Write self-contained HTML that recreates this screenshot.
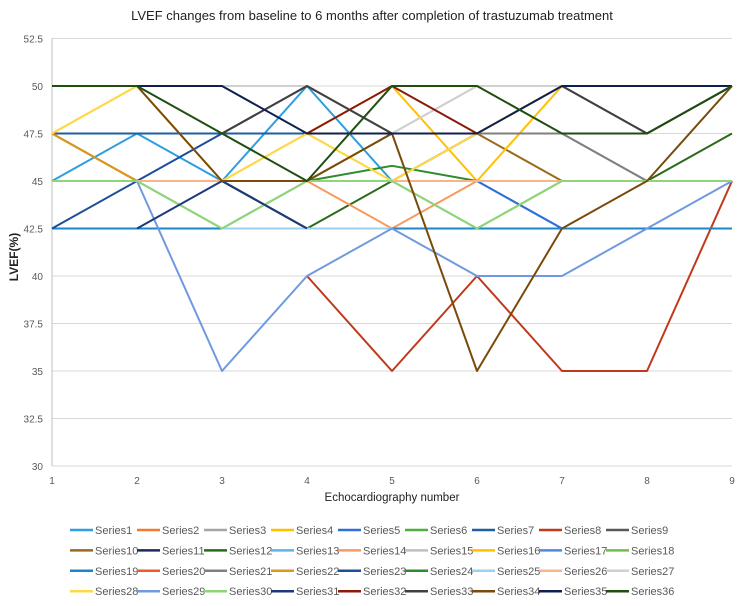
<!DOCTYPE html>
<html><head><meta charset="utf-8"><style>
body{margin:0;background:#fff;}
svg{display:block;font-family:"Liberation Sans",sans-serif;}
</style></head><body>
<svg id="chart" width="744" height="606" viewBox="0 0 744 606">
<text x="372" y="20" text-anchor="middle" font-size="13" fill="#222">LVEF changes from baseline to 6 months after completion of trastuzumab treatment</text>
<text transform="translate(18,257) rotate(-90)" text-anchor="middle" font-size="12" font-weight="bold" fill="#222">LVEF(%)</text>
<text x="392" y="501" text-anchor="middle" font-size="11.5" fill="#222">Echocardiography number</text>
<g id="grid"></g><g id="series"></g><g id="legend"></g>
</svg>
<script>
const categories=[1,2,3,4,5,6,7,8,9];
const yTicks=[30,32.5,35,37.5,40,42.5,45,47.5,50,52.5];
const seriesNames=[];for(let i=1;i<=36;i++)seriesNames.push('Series'+i);
const colors=['#2e9ee0','#f07b2e','#a5a5a5','#ffc000','#2f6fd6','#4caf3a','#1f5fa0','#c0391b','#595959','#9c6a1c','#1a2a5e','#2a6a1a','#5ab4ea','#f79a5e','#bfbfbf','#ffc000','#4a8ae0','#6cc04a','#1b86c8','#f05a28','#7f7f7f','#d99a1a','#1e4e9a','#2e8b2e','#9dd0f0','#f9b48a','#d0d0d0','#ffd84a','#6f9ae0','#8fd47a','#1c3a7a','#8b1a0a','#404040','#7a4a0a','#0f1f50','#1f4f10'];
const s1=[45,47.5,45,50,45,45,42.5,42.5,42.5];
const s2=[47.5,45,45,45,45,45,45,45,45];
const s3=[null,null,null,null,45,47.5,47.5,45,45];
const s4=[47.5,50,45,47.5,45,47.5,50,50,50];
const s5=[45,45,45,45,45,45,42.5,42.5,42.5];
const s6=[45,45,45,45,45,45,45,45,45];
const s7=[47.5,47.5,47.5,47.5,47.5,47.5,47.5,null,null];
const s8=[null,null,null,40,35,40,35,35,45];
const s9=[null,null,47.5,50,47.5,null,50,47.5,50];
const s10=[47.5,45,45,45,47.5,47.5,45,null,null];
const s11=[45,45,45,42.5,null,null,null,null,null];
const s12=[45,45,45,42.5,45,45,45,45,47.5];
const s13=[42.5,42.5,42.5,42.5,42.5,42.5,42.5,42.5,42.5];
const s14=[45,45,45,45,42.5,45,45,45,45];
const s15=[null,null,null,null,47.5,50,50,50,50];
const s16=[null,null,null,47.5,50,45,50,50,50];
const s17=[45,45,45,45,45,45,45,45,45];
const s18=[45,45,42.5,45,45,42.5,45,45,45];
const s19=[42.5,42.5,42.5,42.5,42.5,42.5,42.5,42.5,42.5];
const s20=[45,45,45,45,45,45,45,45,45];
const s21=[null,null,null,null,45,47.5,47.5,45,45];
const s22=[47.5,45,45,45,45,45,45,45,45];
const s23=[42.5,45,47.5,null,null,null,null,null,null];
const s24=[45,45,45,45,45.8,45,45,45,45];
const s25=[null,null,42.5,42.5,42.5,null,null,null,null];
const s26=[45,45,45,45,45,45,45,45,45];
const s27=[50,50,50,50,47.5,50,50,50,50];
const s28=[47.5,50,45,47.5,45,47.5,50,50,50];
const s29=[45,45,35,40,42.5,40,40,42.5,45];
const s30=[45,45,42.5,45,45,42.5,45,45,45];
const s31=[null,42.5,45,42.5,null,null,null,null,null];
const s32=[null,null,null,47.5,50,47.5,null,null,null];
const s33=[null,null,47.5,50,47.5,null,50,47.5,50];
const s34=[50,50,45,45,47.5,35,42.5,45,50];
const s35=[50,50,50,47.5,47.5,47.5,50,50,50];
const s36=[50,50,47.5,45,50,50,47.5,47.5,50];
const seriesValues=[s1,s2,s3,s4,s5,s6,s7,s8,s9,s10,s11,s12,s13,s14,s15,s16,s17,s18,s19,s20,s21,s22,s23,s24,s25,s26,s27,s28,s29,s30,s31,s32,s33,s34,s35,s36];

const NS='http://www.w3.org/2000/svg';
const X0=52,X1=732,Y0=466,Y1=38.5,VMIN=30,VMAX=52.5;
function xScale(c){return X0+(c-1)*(X1-X0)/(categories.length-1);}
function yScale(v){return Y0-(v-VMIN)*(Y0-Y1)/(VMAX-VMIN);}
function mk(tag,attrs,parent){const e=document.createElementNS(NS,tag);for(const k in attrs)e.setAttribute(k,attrs[k]);parent.appendChild(e);return e;}
const grid=document.getElementById('grid');
yTicks.forEach(t=>{
  const l=mk('line',{x1:X0,x2:X1,y1:yScale(t),y2:yScale(t),stroke:'#d9d9d9','stroke-width':1},grid);
  
  
  const tx=mk('text',{x:43,y:yScale(t)+4,'text-anchor':'end','font-size':10,fill:'#595959'},grid);
  tx.textContent=t;
  
  
});
const ax=mk('line',{x1:X0,x2:X0,y1:Y1,y2:Y0,stroke:'#bfbfbf','stroke-width':1},grid);


categories.forEach(c=>{
  const tx=mk('text',{x:xScale(c),y:484,'text-anchor':'middle','font-size':10,fill:'#595959'},grid);
  tx.textContent=c;
  
  
});
const sg=document.getElementById('series');
seriesValues.forEach((vals,i)=>{
  let d='',pen=false;
  vals.forEach((v,j)=>{if(v===null){pen=false;return;}d+=(pen?'L':'M')+xScale(categories[j]).toFixed(1)+','+yScale(v).toFixed(1);pen=true;});
  const p=mk('path',{d:d,fill:'none',stroke:colors[i],'stroke-width':2,'stroke-linejoin':'round'},sg);
  
  
});
const lg=document.getElementById('legend');
seriesNames.forEach((n,i)=>{
  const col=i%9,row=Math.floor(i/9);
  const x=70+col*67,y=530+row*20.4;
  const g=mk('g',{},lg);
  
  
  mk('line',{x1:x,x2:x+23,y1:y,y2:y,stroke:colors[i],'stroke-width':2.5},g);
  const t=mk('text',{x:x+25,y:y+4,'font-size':11,fill:'#595959'},g);
  t.textContent=n;
});
</script>
</body></html>
